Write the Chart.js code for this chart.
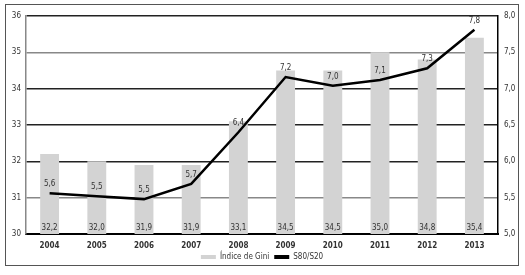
<!DOCTYPE html>
<html>
<head>
<meta charset="utf-8">
<script src="https://cdn.jsdelivr.net/npm/chart.js@4"></script>
<style>
  html, body { margin: 0; padding: 0; background: #fff; }
  #frame { position: absolute; left: 5px; top: 4px; width: 512px; height: 260px; border: 1px solid #555; }
  canvas { display: block; }
</style>
</head>
<body>
<div id="frame"><canvas id="giniChart" width="512" height="260"></canvas></div>
<script>
// years on the x axis
var years = ['2004', '2005', '2006', '2007', '2008', '2009', '2010', '2011', '2012', '2013'];
// Índice de Gini (left axis)
var giniValues = [32.2, 32.0, 31.9, 31.9, 33.1, 34.5, 34.5, 35.0, 34.8, 35.4];
// S80/S20 (right axis)
var s80s20Values = [5.56, 5.52, 5.48, 5.69, 6.4, 7.16, 7.04, 7.12, 7.28, 7.81];

var FONT = "'Liberation Sans Narrow', 'DejaVu Sans Condensed', sans-serif";

function comma(v, d) {
    return v.toFixed(d).replace('.', ',');
}

// draws the value labels on bars and on line points
var valueLabels = {
    id: 'valueLabels',
    afterDatasetsDraw: function (chart) {
        var ctx = chart.ctx;
        ctx.save();
        ctx.font = '8px ' + FONT;
        ctx.fillStyle = '#333';
        ctx.textAlign = 'center';
        ctx.textBaseline = 'middle';
        var bottom = chart.chartArea.bottom;
        chart.getDatasetMeta(0).data.forEach(function (bar, i) {
            ctx.fillText(comma(giniValues[i], 1), bar.x, bottom - 6);
        });
        chart.getDatasetMeta(1).data.forEach(function (pt, i) {
            ctx.fillText(comma(s80s20Values[i], 1), pt.x, pt.y - 9);
        });
        ctx.restore();
    }
};

var ctx = document.getElementById('giniChart').getContext('2d');
var chart = new Chart(ctx, {
    type: 'bar',
    data: {
        labels: years,
        datasets: [{
            label: 'Índice de Gini',
            data: giniValues,
            backgroundColor: '#d3d3d3',
            borderWidth: 0,
            barPercentage: 0.4,
            categoryPercentage: 1,
            yAxisID: 'y',
            order: 2
        }, {
            type: 'line',
            label: 'S80/S20',
            data: s80s20Values,
            borderColor: '#000',
            backgroundColor: '#000',
            borderWidth: 2.5,
            pointRadius: 0,
            tension: 0,
            yAxisID: 'y1',
            order: 1
        }]
    },
    options: {
        responsive: false,
        animation: false,
        layout: { padding: { top: 11, left: 0, right: 0, bottom: -6 } },
        plugins: {
            tooltip: { enabled: false },
            legend: {
                position: 'bottom',
                labels: {
                    font: { family: FONT, size: 8 },
                    color: '#333',
                    boxWidth: 15,
                    boxHeight: 4,
                    padding: 5,
                    sort: function (a, b) { return a.datasetIndex - b.datasetIndex; },
                    generateLabels: function (chart) {
                        var items = Chart.defaults.plugins.legend.labels.generateLabels(chart);
                        items.forEach(function (it) { it.lineWidth = 0; });
                        return items;
                    }
                }
            }
        },
        scales: {
            x: {
                grid: { display: false, drawTicks: false },
                border: { color: '#000', width: 2 },
                ticks: { font: { family: FONT, size: 8, weight: 'bold' }, color: '#333', padding: 7, maxRotation: 0 },
                afterFit: function (s) { s.height = 14; }
            },
            y: {
                position: 'left',
                min: 30,
                max: 36,
                ticks: { stepSize: 1, font: { family: FONT, size: 8 }, color: '#333', padding: 5 },
                grid: {
                    drawTicks: false,
                    lineWidth: 1.5,
                    color: function (c) { return (c.tick && (c.tick.value === 31 || c.tick.value === 35)) ? '#888' : '#222'; }
                },
                border: { color: '#888', width: 1.5 },
                afterFit: function (s) { s.width = 20; }
            },
            y1: {
                position: 'right',
                min: 5,
                max: 8,
                ticks: {
                    stepSize: 0.5,
                    font: { family: FONT, size: 8 },
                    color: '#333',
                    padding: 6,
                    callback: function (v) { return comma(v, 1); }
                },
                grid: { display: false, drawTicks: false },
                border: { color: '#000', width: 1.5 },
                afterFit: function (s) { s.width = 20; }
            }
        }
    },
    plugins: [valueLabels]
});
</script>
</body>
</html>
